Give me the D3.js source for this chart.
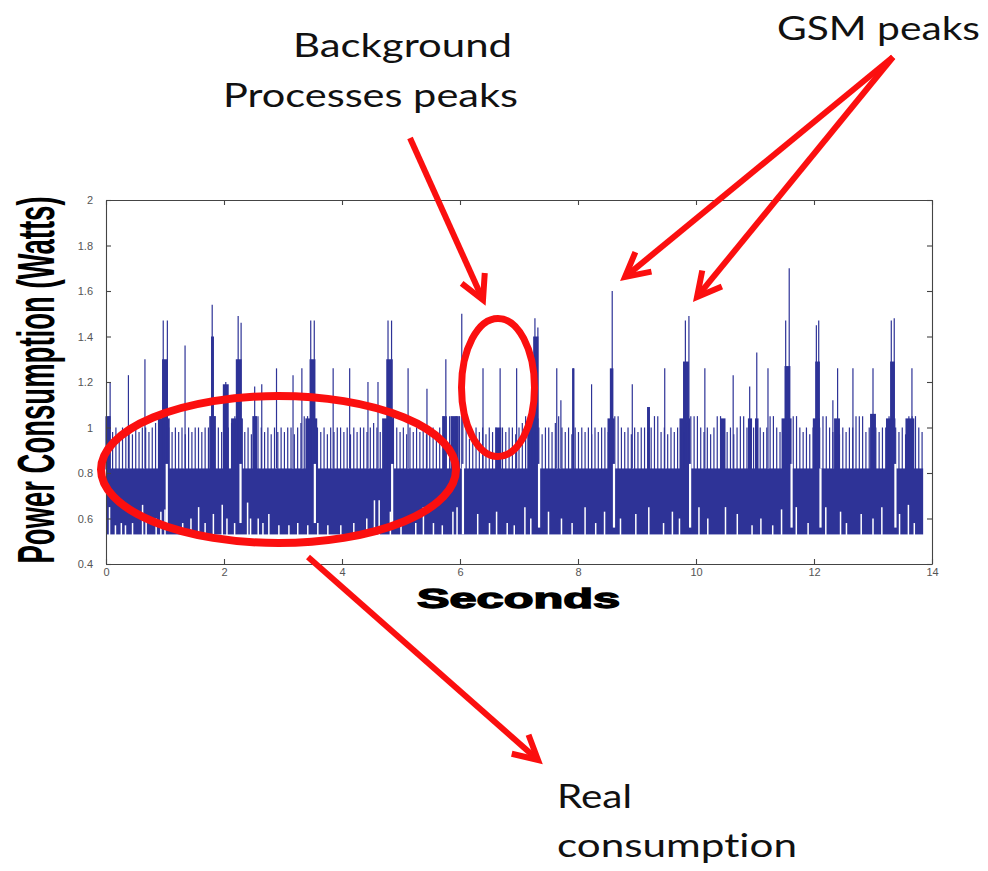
<!DOCTYPE html>
<html>
<head>
<meta charset="utf-8">
<script src="https://cdn.jsdelivr.net/npm/d3@7"></script>
<style>
  body { margin: 0; background: #fff; }
  svg { display: block; }
  text { font-variant-ligatures: none; }
</style>
</head>
<body>
<svg id="chart"></svg>
<script>
// ---- data ----
var xTicks = [0, 2, 4, 6, 8, 10, 12, 14];
var yTicks = [0.4, 0.6, 0.8, 1, 1.2, 1.4, 1.6, 1.8, 2];

// dense part of the trace: start/end (s) and low/high level (W)
var bandSpan = [0, 13.85];
var bandLevels = [0.53, 0.82];

// short pulses above the band, one every pulseStep seconds
var pulseStep = 0.056;
var pulseTop = [
  1.05,1.05,0.98,1.0,0.97,1.0,0.98,1.0,0.97,1.0,0.98,1.0,1.0,0.98,1.0,1.02,1.05,1.05,
  1.05,1.0,0.98,1.0,0.98,1.0,0.97,1.0,0.98,1.0,1.0,0.98,1.0,1.0,1.05,1.05,1.0,0.98,
  1.05,1.0,1.02,1.05,1.05,1.0,0.98,1.0,0.97,1.05,1.05,1.0,0.98,1.0,0.97,1.0,0.98,1.0,
  0.98,1.0,1.0,0.97,1.0,1.02,1.05,1.05,1.0,0.98,1.0,0.98,1.0,0.97,1.0,0.98,1.0,1.0,
  0.98,1.0,0.97,1.0,0.98,1.0,1.0,0.98,1.0,1.02,1.0,0.98,1.0,1.02,1.05,1.05,1.0,0.98,
  1.0,0.97,1.0,0.98,1.0,0.98,1.0,0.97,1.0,1.0,0.98,1.0,1.05,1.05,1.05,1.0,1.05,1.05,
  1.05,1.0,0.95,0.97,1.0,0.98,1.0,0.97,1.0,0.98,1.0,0.97,1.0,0.98,1.0,1.0,0.97,1.0,
  1.02,1.05,1.05,1.0,0.98,1.0,0.97,1.0,1.0,0.98,1.02,1.05,1.0,0.98,1.0,0.97,1.0,0.98,
  1.0,0.98,1.0,0.97,1.0,0.98,1.0,1.0,0.98,1.02,1.05,1.05,1.0,0.98,1.0,0.97,1.0,0.98,
  1.0,1.0,0.98,1.0,1.05,1.05,0.98,1.0,0.97,1.0,0.98,1.0,1.0,0.98,1.02,1.05,1.05,1.05,
  1.0,0.98,1.0,0.97,1.0,1.05,1.05,1.0,0.98,1.0,0.97,1.0,1.05,1.05,1.0,0.98,1.0,0.97,
  1.0,0.98,1.0,1.05,1.05,1.0,0.98,1.0,0.97,1.0,1.05,1.05,1.0,0.98,1.0,0.97,1.0,0.98,
  1.0,1.05,1.05,1.0,0.98,1.0,0.97,1.0,0.98,1.0,1.0,1.05,1.05,1.05,0.98,1.0,0.97,1.0,
  0.98,1.0,1.0,1.05,1.05,1.0,0.98,1.0,0.97,1.05,1.05,1.05,1.0,0.98
];

// tall single peaks: time (s), top (W)
var peakTimes = [0.07,0.38,0.66,0.97,1.04,1.34,1.80,2.03,2.24,2.29,2.52,2.64,2.89,3.17,3.32,
  3.47,3.53,3.85,4.13,4.44,4.61,4.78,4.84,5.12,5.44,5.76,6.03,6.39,6.68,6.96,7.27,7.32,7.64,
  7.71,7.92,8.23,8.58,8.92,9.47,9.82,9.88,10.15,10.63,10.91,11.03,11.22,11.52,11.58,12.04,
  12.08,12.32,12.40,12.66,13.00,13.31,13.36,13.66];
var peakTops = [1.20,1.23,1.30,1.47,1.47,1.36,1.54,1.20,1.49,1.46,1.18,1.19,1.26,1.23,1.26,
  1.47,1.47,1.26,1.26,1.20,1.20,1.47,1.47,1.26,1.17,1.30,1.50,1.26,1.26,1.26,1.48,1.44,1.26,
  1.12,1.26,1.19,1.60,1.19,1.26,1.47,1.49,1.26,1.23,1.18,1.33,1.26,1.47,1.70,1.45,
  1.47,1.12,1.26,1.26,1.26,1.47,1.48,1.26];

// solid bursts above the band: start (s), end (s), top (W)
var burstStart = [0.00,0.88,0.95,1.75,1.78,1.98,2.12,2.20,2.48,3.38,3.45,4.68,4.75,5.70,5.84,
  6.60,7.14,7.24,7.90,8.50,8.54,9.17,9.72,9.78,10.42,10.88,11.00,11.45,11.50,11.98,12.02,
  12.34,12.95,13.22,13.29,13.55];
var burstEnd = [0.08,1.08,1.05,1.86,1.83,2.08,2.32,2.30,2.56,3.58,3.55,4.88,4.86,5.76,5.98,
  6.70,7.33,7.33,7.94,8.62,8.60,9.22,9.90,9.88,10.50,10.95,11.06,11.62,11.60,12.10,12.10,
  12.44,13.05,13.38,13.37,13.70];
var burstTop = [1.05,1.04,1.30,1.05,1.40,1.19,1.04,1.30,1.05,1.04,1.30,1.04,1.30,1.05,1.05,
  1.00,1.04,1.40,1.26,1.04,1.26,1.09,1.04,1.29,1.04,1.04,1.04,1.04,1.27,1.04,1.29,
  1.04,1.06,1.04,1.29,1.04];

// places where the trace leaves the band: time (s), from / to (W)
var gapTimes = [1.03,2.28,3.54,4.85,6.05,7.34,8.61,9.90,11.62,12.11,13.38];
var gapLow = [0.58,0.58,0.58,0.56,0.53,0.56,0.56,0.56,0.56,0.56,0.56];
var gapHigh = [0.84,0.84,0.84,0.84,0.84,0.84,0.84,0.84,0.84,0.82,0.84];

// minima that stay above the band floor: time (s), level (W)
var notchTimes = [0.06,0.16,0.26,0.33,0.45,0.62,0.68,0.85,0.93,1.00,1.30,1.44,1.57,1.68,1.82,
  1.97,2.05,2.18,2.40,2.45,2.58,2.66,2.76,2.93,3.10,3.25,3.42,3.59,3.76,3.98,4.20,4.42,4.55,
  4.63,4.82,5.00,5.25,5.38,5.55,5.70,5.88,5.95,6.30,6.50,6.62,6.80,6.92,7.10,7.20,7.50,7.72,
  7.90,8.12,8.30,8.45,8.72,8.98,9.20,9.45,9.60,9.72,10.05,10.20,10.50,10.70,10.95,11.10,
  11.30,11.45,11.70,11.90,12.20,12.45,12.55,12.80,13.00,13.15,13.45,13.60,13.70];
var notchLevels = [0.65,0.57,0.58,0.57,0.58,0.66,0.60,0.60,0.63,0.64,0.58,0.60,0.65,0.58,0.62,
  0.66,0.60,0.58,0.67,0.60,0.60,0.58,0.62,0.57,0.57,0.58,0.57,0.58,0.57,0.57,0.58,0.60,0.68,
  0.68,0.63,0.57,0.58,0.65,0.58,0.57,0.63,0.65,0.62,0.58,0.63,0.58,0.57,0.65,0.60,0.63,0.60,
  0.58,0.65,0.58,0.63,0.60,0.62,0.65,0.58,0.63,0.60,0.65,0.60,0.65,0.62,0.57,0.60,
  0.57,0.64,0.65,0.58,0.65,0.63,0.58,0.62,0.60,0.65,0.62,0.66,0.58];

// ---- page ----
var screen = { width: 988, height: 871 };
var plot = { left: 106, right: 932, top: 200, bottom: 564 };
var traceColor = "#2e3397";
var red = "#fb0f0f";

var svg = d3.select("#chart")
  .attr("width", screen.width)
  .attr("height", screen.height);

var xScale = d3.scaleLinear().domain([0, 14]).range([plot.left, plot.right]);
var yScale = d3.scaleLinear().domain([0.4, 2]).range([plot.bottom, plot.top]);

var trace = svg.append("g");

// band
trace.selectAll("rect.band")
  .data([bandSpan])
  .enter()
  .append("rect")
  .attr("class", "band")
  .attr("x", function(d) { return xScale(d[0]); })
  .attr("width", function(d) { return xScale(d[1]) - xScale(d[0]); })
  .attr("y", yScale(bandLevels[1]))
  .attr("height", yScale(bandLevels[0]) - yScale(bandLevels[1]))
  .attr("fill", traceColor);

// bursts
trace.selectAll("rect.burst")
  .data(burstStart)
  .enter()
  .append("rect")
  .attr("class", "burst")
  .attr("x", function(d) { return xScale(d); })
  .attr("width", function(d, i) { return Math.max(1.5, xScale(burstEnd[i]) - xScale(d)); })
  .attr("y", function(d, i) { return yScale(burstTop[i]); })
  .attr("height", function(d, i) { return yScale(bandLevels[1]) - yScale(burstTop[i]) + 1; })
  .attr("fill", traceColor);

// pulses
trace.selectAll("line.pulse")
  .data(pulseTop)
  .enter()
  .append("line")
  .attr("class", "pulse")
  .attr("x1", function(d, i) { return xScale(i * pulseStep); })
  .attr("x2", function(d, i) { return xScale(i * pulseStep); })
  .attr("y1", yScale(bandLevels[1]) + 1)
  .attr("y2", function(d) { return yScale(d); })
  .attr("stroke", traceColor)
  .attr("stroke-width", 1.2);

// peaks
trace.selectAll("line.peak")
  .data(peakTimes)
  .enter()
  .append("line")
  .attr("class", "peak")
  .attr("x1", function(d) { return xScale(d); })
  .attr("x2", function(d) { return xScale(d); })
  .attr("y1", yScale(bandLevels[1]))
  .attr("y2", function(d, i) { return yScale(peakTops[i]); })
  .attr("stroke", traceColor)
  .attr("stroke-width", 1.2);

// gaps and notches (white, where the trace is absent)
trace.selectAll("line.gap")
  .data(gapTimes)
  .enter()
  .append("line")
  .attr("class", "gap")
  .attr("x1", function(d) { return xScale(d); })
  .attr("x2", function(d) { return xScale(d); })
  .attr("y1", function(d, i) { return yScale(gapLow[i]); })
  .attr("y2", function(d, i) { return yScale(gapHigh[i]); })
  .attr("stroke", "#fff")
  .attr("stroke-width", 2.2);

trace.selectAll("line.notch")
  .data(notchTimes)
  .enter()
  .append("line")
  .attr("class", "notch")
  .attr("x1", function(d) { return xScale(d); })
  .attr("x2", function(d) { return xScale(d); })
  .attr("y1", yScale(bandLevels[0]) + 1)
  .attr("y2", function(d, i) { return yScale(notchLevels[i]); })
  .attr("stroke", "#fff")
  .attr("stroke-width", 1.5);

// axes, matlab style box with inward ticks
var fmt = function(d) { return String(+d.toFixed(1)); };
var axisColor = "#444";

var xAxis = d3.axisBottom(xScale).tickValues(xTicks).tickFormat(fmt)
  .tickSizeInner(-5).tickSizeOuter(0).tickPadding(4);
var yAxis = d3.axisLeft(yScale).tickValues(yTicks).tickFormat(fmt)
  .tickSizeInner(-5).tickSizeOuter(0).tickPadding(13);
var xTop = d3.axisTop(xScale).tickValues(xTicks).tickFormat("")
  .tickSizeInner(-5).tickSizeOuter(0);
var yRight = d3.axisRight(yScale).tickValues(yTicks).tickFormat("")
  .tickSizeInner(-5).tickSizeOuter(0);

var axes = [
  svg.append("g").attr("transform", "translate(0," + plot.bottom + ")").call(xAxis),
  svg.append("g").attr("transform", "translate(" + plot.left + ",0)").call(yAxis),
  svg.append("g").attr("transform", "translate(0," + plot.top + ")").call(xTop),
  svg.append("g").attr("transform", "translate(" + plot.right + ",0)").call(yRight)
];
axes.forEach(function(g) {
  g.selectAll("path, line").attr("stroke", axisColor).attr("stroke-width", 1.1);
  g.selectAll("text")
    .attr("fill", "#555")
    .style("font-family", "'Liberation Sans', Arial, sans-serif")
    .style("font-size", "11px");
});

// axis titles
svg.append("text")
  .text("Seconds")
  .attr("x", 417)
  .attr("y", 608)
  .attr("textLength", 203)
  .attr("lengthAdjust", "spacingAndGlyphs")
  .attr("fill", "#000")
  .attr("stroke", "#000")
  .attr("stroke-width", 1.3)
  .style("font-family", "'Liberation Sans', Arial, sans-serif")
  .style("font-weight", "bold")
  .style("font-size", "27px");

// tall condensed title: normal width, stretched across the baseline
svg.append("text")
  .text("Power Consumption (Watts)")
  .attr("transform", "translate(54,380) rotate(-90) scale(1,1.9)")
  .attr("text-anchor", "middle")
  .attr("fill", "#000")
  .style("font-family", "'Liberation Sans', Arial, sans-serif")
  .style("font-weight", "bold")
  .style("font-size", "27.5px");

// ---- annotations ----
var notes = svg.append("g")
  .style("font-family", "Lato, 'Open Sans', sans-serif")
  .style("font-size", "33px")
  .attr("fill", "#111");

var noteLines = [
  { text: "Background", x: 293, y: 57, w: 219 },
  { text: "Processes peaks", x: 223, y: 107, w: 295 },
  { text: "GSM peaks", x: 777, y: 40, w: 203 },
  { text: "Real", x: 557, y: 808, w: 75 },
  { text: "consumption", x: 557, y: 857, w: 240 }
];
notes.selectAll("text")
  .data(noteLines)
  .enter()
  .append("text")
  .text(function(d) { return d.text; })
  .attr("x", function(d) { return d.x; })
  .attr("y", function(d) { return d.y; })
  .attr("textLength", function(d) { return d.w; })
  .attr("lengthAdjust", "spacingAndGlyphs");

var marks = svg.append("g")
  .attr("fill", "none")
  .attr("stroke", red);

var rings = [
  { cx: 278.5, cy: 469.5, rx: 177.5, ry: 73.5, w: 8 },
  { cx: 498, cy: 387.5, rx: 36.5, ry: 69, w: 7 }
];
marks.selectAll("ellipse")
  .data(rings)
  .enter()
  .append("ellipse")
  .attr("cx", function(d) { return d.cx; })
  .attr("cy", function(d) { return d.cy; })
  .attr("rx", function(d) { return d.rx; })
  .attr("ry", function(d) { return d.ry; })
  .attr("stroke-width", function(d) { return d.w; });

var arrows = [
  [[410, 138], [483, 300]],
  [[893, 57], [625, 277]],
  [[893, 57], [697, 297]],
  [[308, 557], [538, 760]]
];
var headLen = 27, headAngle = 28 * Math.PI / 180;
arrows.forEach(function(a) {
  var from = a[0], tip = a[1];
  var back = Math.atan2(from[1] - tip[1], from[0] - tip[0]);
  marks.append("line")
    .attr("x1", from[0]).attr("y1", from[1])
    .attr("x2", tip[0] - 3 * Math.cos(back + Math.PI))
    .attr("y2", tip[1] - 3 * Math.sin(back + Math.PI))
    .attr("stroke-width", 6);
  var arm1 = [tip[0] + headLen * Math.cos(back - headAngle), tip[1] + headLen * Math.sin(back - headAngle)];
  var arm2 = [tip[0] + headLen * Math.cos(back + headAngle), tip[1] + headLen * Math.sin(back + headAngle)];
  marks.append("path")
    .attr("d", d3.line()([arm1, tip, arm2]))
    .attr("stroke-width", 6)
    .attr("stroke-linejoin", "miter");
});
</script>
</body>
</html>
